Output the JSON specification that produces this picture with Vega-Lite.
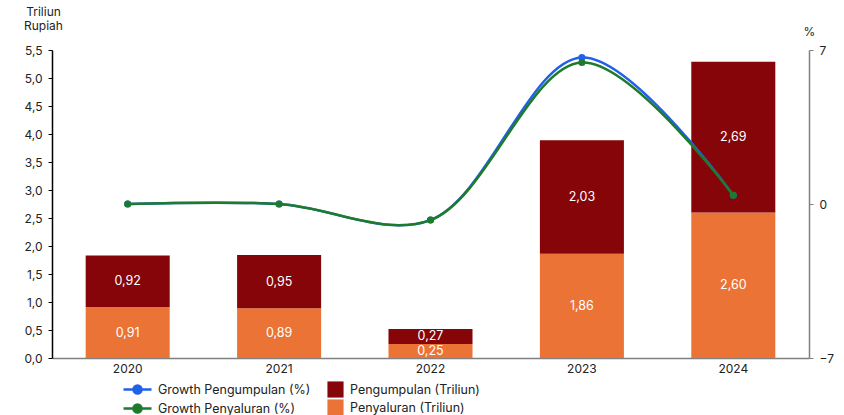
{
  "$schema": "https://vega.github.io/schema/vega-lite/v6.json",
  "width": 757,
  "height": 308,
  "autosize": {"type": "none"},
  "padding": {"left": 52, "top": 50, "right": 35, "bottom": 57},
  "background": "white",
  "config": {
    "locale": {"number": {"decimal": ",", "thousands": ".", "grouping": [3], "currency": ["Rp", ""]}},
    "font": "Inter",
    "view": {"stroke": null},
    "axis": {"labelFont": "Inter", "titleFont": "Inter", "labelFontSize": 12, "labelColor": "#222", "titleColor": "#222", "grid": false},
    "legend": {"labelFont": "Inter", "labelFontSize": 12.5, "labelColor": "#222"}
  },
  "datasets": {
    "bars": [
      {"year": "2020", "series": "Penyaluran (Triliun)", "value": 0.91},
      {"year": "2020", "series": "Pengumpulan (Triliun)", "value": 0.92},
      {"year": "2021", "series": "Penyaluran (Triliun)", "value": 0.89},
      {"year": "2021", "series": "Pengumpulan (Triliun)", "value": 0.95},
      {"year": "2022", "series": "Penyaluran (Triliun)", "value": 0.25},
      {"year": "2022", "series": "Pengumpulan (Triliun)", "value": 0.27},
      {"year": "2023", "series": "Penyaluran (Triliun)", "value": 1.86},
      {"year": "2023", "series": "Pengumpulan (Triliun)", "value": 2.03},
      {"year": "2024", "series": "Penyaluran (Triliun)", "value": 2.60},
      {"year": "2024", "series": "Pengumpulan (Triliun)", "value": 2.69}
    ],
    "lines": [
      {"year": "2020", "series": "Growth Pengumpulan (%)", "value": 0.0},
      {"year": "2021", "series": "Growth Pengumpulan (%)", "value": 0.0},
      {"year": "2022", "series": "Growth Pengumpulan (%)", "value": -0.73},
      {"year": "2023", "series": "Growth Pengumpulan (%)", "value": 6.66},
      {"year": "2024", "series": "Growth Pengumpulan (%)", "value": 0.4},
      {"year": "2020", "series": "Growth Penyaluran (%)", "value": 0.0},
      {"year": "2021", "series": "Growth Penyaluran (%)", "value": 0.0},
      {"year": "2022", "series": "Growth Penyaluran (%)", "value": -0.73},
      {"year": "2023", "series": "Growth Penyaluran (%)", "value": 6.43},
      {"year": "2024", "series": "Growth Penyaluran (%)", "value": 0.4}
    ]
  },
  "encoding": {
    "x": {
      "field": "year", "type": "nominal",
      "scale": {"paddingInner": 0.445, "paddingOuter": 0.2225},
      "axis": {"title": null, "labelAngle": 0, "ticks": false, "domainColor": "#808080", "domainWidth": 1.5, "labelPadding": 5}
    }
  },
  "layer": [
    {
      "data": {"name": "bars"},
      "layer": [
        {
          "mark": {"type": "bar"},
          "encoding": {
            "y": {
              "field": "value", "type": "quantitative", "stack": "zero",
              "scale": {"domain": [0, 5.5], "nice": false},
              "axis": {
                "title": ["Triliun", "Rupiah"], "titleAngle": 0, "titleAlign": "center", "titleBaseline": "alphabetic",
                "titleX": -9, "titleY": -35, "titleFontWeight": "normal", "titleFontSize": 12, "titleLineHeight": 14,
                "values": [0, 0.5, 1, 1.5, 2, 2.5, 3, 3.5, 4, 4.5, 5, 5.5], "format": ".1f", "labelOverlap": false,
                "domainColor": "#000", "tickColor": "#000", "tickSize": 4, "labelPadding": 6, "domainWidth": 1.5
              }
            },
            "fill": {
              "field": "series", "type": "nominal",
              "scale": {"domain": ["Pengumpulan (Triliun)", "Penyaluran (Triliun)"], "range": ["#850508", "#eb7335"]},
              "legend": {
                "title": null, "orient": "none", "legendX": 275, "legendY": 331, "direction": "vertical",
                "symbolType": "square", "symbolSize": 260, "symbolStrokeWidth": 0, "labelOffset": 6, "rowPadding": 1
              }
            },
            "order": {"field": "series", "sort": "descending"}
          }
        },
        {
          "transform": [
            {"stack": "value", "groupby": ["year"], "sort": [{"field": "series", "order": "descending"}], "as": ["v0", "v1"]},
            {"calculate": "(datum.v0 + datum.v1) / 2", "as": "mid"}
          ],
          "mark": {"type": "text", "color": "white", "fontSize": 12.5, "baseline": "middle"},
          "encoding": {
            "y": {
              "field": "mid", "type": "quantitative",
              "scale": {"domain": [0, 5.5], "nice": false},
              "axis": {
                "title": ["Triliun", "Rupiah"], "titleAngle": 0, "titleAlign": "center", "titleBaseline": "alphabetic",
                "titleX": -9, "titleY": -35, "titleFontWeight": "normal", "titleFontSize": 12, "titleLineHeight": 14,
                "values": [0, 0.5, 1, 1.5, 2, 2.5, 3, 3.5, 4, 4.5, 5, 5.5], "format": ".1f", "labelOverlap": false,
                "domainColor": "#000", "tickColor": "#000", "tickSize": 4, "labelPadding": 6, "domainWidth": 1.5
              }
            },
            "text": {"field": "value", "type": "quantitative", "format": ".2f"}
          }
        }
      ]
    },
    {
      "data": {"name": "lines"},
      "mark": {"type": "line", "interpolate": "catmull-rom", "strokeWidth": 2.5, "point": {"filled": true, "size": 50}},
      "encoding": {
        "y": {
          "field": "value", "type": "quantitative",
          "scale": {"domain": [-7, 7], "nice": false},
          "axis": {
            "orient": "right", "title": "%", "titleAngle": 0, "titleAlign": "center", "titleBaseline": "alphabetic",
            "titleX": 0, "titleY": -15, "titleFontWeight": "normal", "titleFontSize": 12,
            "values": [-7, 0, 7], "domainColor": "#808080", "tickColor": "#808080", "tickSize": 4, "labelPadding": 6, "domainWidth": 1.5
          }
        },
        "color": {
          "field": "series", "type": "nominal",
          "scale": {"domain": ["Growth Pengumpulan (%)", "Growth Penyaluran (%)"], "range": ["#2160e8", "#1e7a2c"]},
          "legend": {
            "title": null, "orient": "none", "legendX": 79, "legendY": 333, "direction": "vertical",
            "symbolType": "M-2.8,0L2.8,0M0.8,0A0.8,0.8,0,1,1,-0.8,0A0.8,0.8,0,1,1,0.8,0Z",
            "symbolSize": 100, "symbolStrokeWidth": 2.5, "labelOffset": 14, "rowPadding": 0,
            "encode": {"symbols": {"update": {"fill": {"scale": "color", "field": "value"}, "stroke": {"scale": "color", "field": "value"}}}}
          }
        }
      }
    }
  ],
  "resolve": {"scale": {"y": "independent"}}
}
